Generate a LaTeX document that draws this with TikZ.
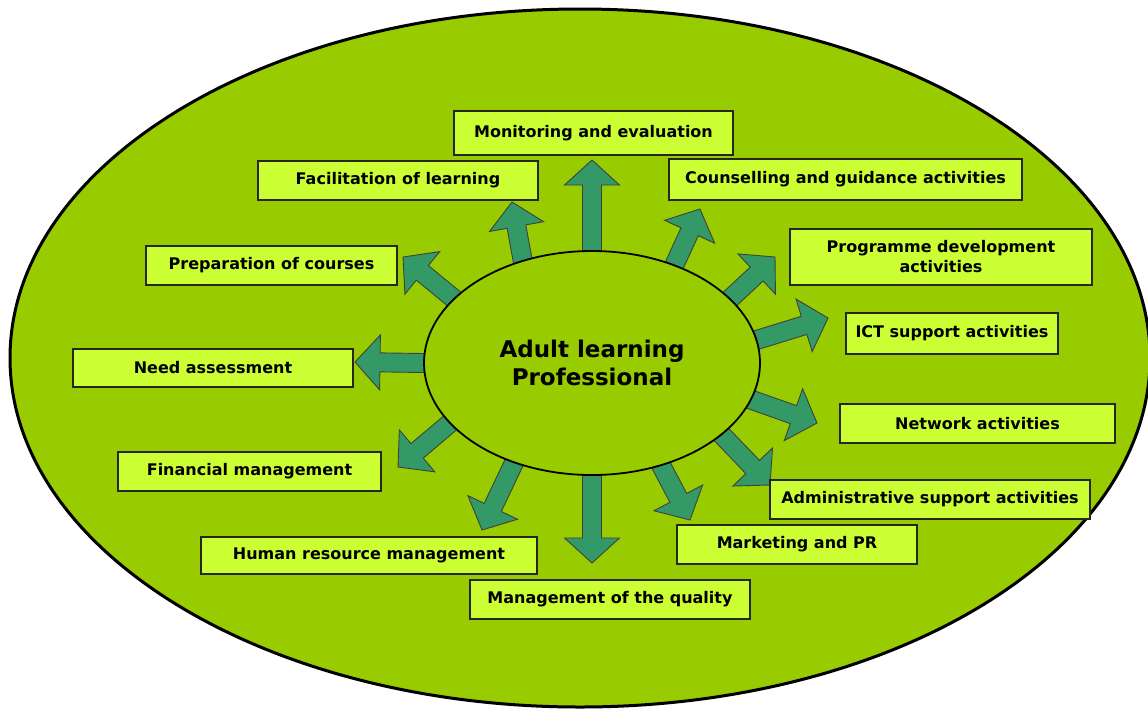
\documentclass[tikz,border=0pt]{standalone}
\usepackage{fontspec}
\setmainfont{DejaVu Sans}
\usetikzlibrary{calc,shapes.geometric}
\definecolor{bgG}{HTML}{99CC00}
\definecolor{boxG}{HTML}{CCFF33}
\definecolor{arrG}{HTML}{339966}
\pgfdeclarelayer{bglayer}
\pgfdeclarelayer{arrlayer}
\pgfsetlayers{bglayer,arrlayer,main}
\newcommand\blockarr[2]{%
  \draw[arrstyle] let \p1=(#1), \p2=(#2),
    \n1={atan2(\y2-\y1,\x2-\x1)}, \n2={veclen(\x2-\x1,\y2-\y1)} in
    [shift={(\p2)}, rotate=\n1]
    (0pt,0pt) -- (-25pt,27.5pt) -- (-25pt,9.5pt) -- ({-(\n2+14)*1pt},9.5pt)
    -- ({-(\n2+14)*1pt},-9.5pt) -- (-25pt,-9.5pt) -- (-25pt,-27.5pt) -- cycle;}
\begin{document}
\begin{tikzpicture}[x=1pt,y=-1pt,
  box/.style={draw=black!85, line width=1.5pt, fill=boxG, inner sep=0pt,
    font=\fontsize{16}{20}\selectfont\bfseries, align=center},
  arrstyle/.style={draw=black!75, line width=0.9pt, fill=arrG, line join=miter},
  core/.style={ellipse, draw=black, line width=1.8pt, fill=bgG, inner sep=0pt,
    minimum width=336pt, minimum height=224pt,
    font=\fontsize{23}{28}\selectfont\bfseries, align=center}]
\useasboundingbox (0,0) rectangle (1148,710);
\begin{pgfonlayer}{bglayer}
\begin{scope}
  \clip (0,0) rectangle (1148,710);
  \draw[line width=3pt, fill=bgG] (580,358) ellipse [x radius=570, y radius=349];
\end{scope}
\end{pgfonlayer}

% central node
\node[core] (core) at (592,363) {Adult learning\\Professional};

% boxes
\node[box, minimum width=279pt, minimum height=44pt] (mon) at (593.5,133) {Monitoring and evaluation};
\node[box, minimum width=280pt, minimum height=39pt] (fac) at (398,180.5) {Facilitation of learning};
\node[box, minimum width=353pt, minimum height=41pt] (cou) at (845.5,179.5) {Counselling and guidance activities};
\node[box, minimum width=251pt, minimum height=39pt] (pre) at (271.5,265.5) {Preparation of courses};
\node[box, minimum width=302pt, minimum height=56pt] (pro) at (941,257) {Programme development\\activities};
\node[box, minimum width=212pt, minimum height=41pt] (ict) at (952,333.5) {ICT support activities};
\node[box, minimum width=280pt, minimum height=38pt] (need) at (213,368) {Need assessment};
\node[box, minimum width=275pt, minimum height=39pt] (net) at (977.5,423.5) {Network activities};
\node[box, minimum width=263pt, minimum height=39pt] (fin) at (249.5,471.5) {Financial management};
\node[box, minimum width=320pt, minimum height=39pt] (adm) at (930,499.5) {Administrative support activities};
\node[box, minimum width=240pt, minimum height=39pt] (mkt) at (797,544.5) {Marketing and PR};
\node[box, minimum width=336pt, minimum height=37pt] (hum) at (369,555.5) {Human resource management};
\node[box, minimum width=280pt, minimum height=39pt] (qual) at (610,599.5) {Management of the quality};

% arrow tips
\coordinate (t1) at (592,160);
\coordinate (t2) at (512,202);
\coordinate (t3) at (403,257);
\coordinate (t4) at (355,362);
\coordinate (t5) at (398,467);
\coordinate (t6) at (482,530);
\coordinate (t7) at (592,563);
\coordinate (t8) at (690,520);
\coordinate (t9) at (770,485);
\coordinate (t10) at (817,423);
\coordinate (t11) at (828,318);
\coordinate (t12) at (775,257);
\coordinate (t13) at (700,209);

\begin{pgfonlayer}{arrlayer}
\blockarr{core.90}{t1}
\blockarr{core.124}{t2}
\blockarr{core.155}{t3}
\blockarr{core.180}{t4}
\blockarr{core.203}{t5}
\blockarr{core.232}{t6}
\blockarr{core.270}{t7}
\blockarr{core.304}{t8}
\blockarr{core.331}{t9}
\blockarr{core.347}{t10}
\blockarr{core.8}{t11}
\blockarr{core.25}{t12}
\blockarr{core.50}{t13}
\end{pgfonlayer}
\end{tikzpicture}
\end{document}
